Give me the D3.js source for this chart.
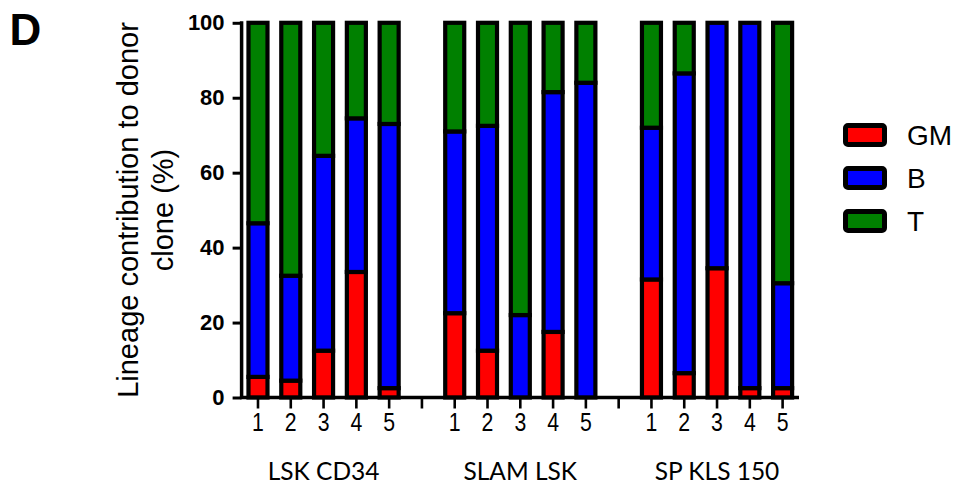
<!DOCTYPE html>
<html>
<head>
<meta charset="utf-8">
<script src="https://cdn.jsdelivr.net/npm/d3@7"></script>
<style>
  html, body { margin: 0; padding: 0; background: #fff; }
  svg { display: block; }
</style>
</head>
<body>
<svg id="chart" width="956" height="485"></svg>
<script>
// Clone groups and the clone numbers within each group
const groups = ["LSK CD34", "SLAM LSK", "SP KLS 150"];
const clones = ["1", "2", "3", "4", "5"];
// Lineage series (percent of donor clone), 5 clones per group in order
const lineages = ["GM", "B", "T"];
const gmValues = [5.5, 4.5, 12.5, 33.5, 2.5,   22.5, 12.5, 0, 17.5, 0,   31.5, 6.5, 34.5, 2.5, 2.5];
const bValues  = [41, 28, 52, 41, 70.5,         48.5, 60, 22, 64, 84,     40.5, 80, 65.5, 97.5, 28];
const tValues  = [53.5, 67.5, 35.5, 25.5, 27,   29, 27.5, 78, 18.5, 16,   28, 13.5, 0, 0, 69.5];
const yTicks = [0, 20, 40, 60, 80, 100];
const colors = { GM: "#ff0000", B: "#0000ff", T: "#008000" };

const ARIAL = "'Liberation Sans', Arial, sans-serif";
const svg = d3.select("#chart");

// Slots along the x axis: 5 clones per group with an empty slot between groups
const slots = [];
const rows = [];
groups.forEach((g, gi) => {
  clones.forEach((c, ci) => {
    const key = g + "|" + c;
    slots.push(key);
    const i = gi * clones.length + ci;
    rows.push({ key, group: g, clone: c, GM: gmValues[i], B: bValues[i], T: tValues[i] });
  });
  if (gi < groups.length - 1) slots.push("gap" + gi);
});

const x = d3.scaleBand().domain(slots).range([241.6, 799]).paddingInner(0).paddingOuter(0);
const y = d3.scaleLinear().domain([0, 100]).range([397.5, 22.8]);
const barW = x.bandwidth() * 0.58;
const cx = key => x(key) + x.bandwidth() / 2;

const series = d3.stack().keys(lineages)(rows);

// Stacked bars
const layer = svg.append("g");
series.forEach(s => {
  layer.selectAll(null)
    .data(s.filter(d => d[1] - d[0] > 0))
    .join("rect")
    .attr("x", d => cx(d.data.key) - barW / 2)
    .attr("width", barW)
    .attr("y", d => y(d[1]))
    .attr("height", d => y(d[0]) - y(d[1]))
    .attr("fill", colors[s.key])
    .attr("stroke", "#000")
    .attr("stroke-width", 4.2);
});

// Y axis
const yAxis = svg.append("g")
  .attr("transform", "translate(241.6,0)")
  .call(d3.axisLeft(y).tickValues(yTicks).tickSize(9).tickPadding(8));
yAxis.select(".domain").attr("stroke", "#000").attr("stroke-width", 3.5)
  .attr("d", `M0,${y(100) - 1.5}V${y(0) + 1.5}`);
yAxis.selectAll(".tick line").attr("stroke-width", 3);
yAxis.selectAll(".tick text")
  .attr("font-family", ARIAL)
  .attr("font-weight", "bold")
  .attr("font-size", 22)
  .attr("fill", "#000");

// X axis with a tick for every slot
const xAxis = svg.append("g")
  .attr("transform", `translate(0,${y(0)})`)
  .call(d3.axisBottom(x).tickSize(11).tickFormat(""));
xAxis.select(".domain").attr("stroke-width", 3.5).attr("d", `M${241.6 - 1.7},0H799`);
xAxis.selectAll(".tick line").attr("stroke-width", 2.6);

// Clone number labels (slightly narrow, tall digits)
svg.append("g").selectAll("text")
  .data(rows)
  .join("text")
  .attr("transform", d => `translate(${cx(d.key)},431) scale(0.85,1)`)
  .attr("text-anchor", "middle")
  .attr("font-family", ARIAL)
  .attr("font-size", 25)
  .text(d => d.clone);

// Group labels
svg.append("g").selectAll("text")
  .data(groups)
  .join("text")
  .attr("x", g => (cx(g + "|" + clones[0]) + cx(g + "|" + clones[clones.length - 1])) / 2)
  .attr("y", 480)
  .attr("text-anchor", "middle")
  .attr("font-family", "Lato, Carlito, sans-serif")
  .attr("font-size", 24.5)
  .text(g => g);

// Y axis title (two lines)
const title = svg.append("text")
  .attr("transform", "translate(0,210) rotate(-90)")
  .attr("text-anchor", "middle")
  .attr("font-family", ARIAL)
  .attr("font-size", 29);
title.append("tspan").attr("x", 0).attr("y", 138).text("Lineage contribution to donor");
title.append("tspan").attr("x", 0).attr("y", 173).text("clone (%)");

// Panel letter
svg.append("text")
  .attr("x", 9.5).attr("y", 45)
  .attr("font-family", ARIAL)
  .attr("font-weight", "bold")
  .attr("font-size", 44)
  .text("D");

// Legend
const legend = svg.append("g");
lineages.forEach((k, i) => {
  const cy = 135 + i * 43;
  legend.append("rect")
    .attr("x", 845.5).attr("y", cy - 9.5)
    .attr("width", 39).attr("height", 19)
    .attr("rx", 2.5)
    .attr("fill", colors[k]).attr("stroke", "#000").attr("stroke-width", 5);
  legend.append("text")
    .attr("x", 907).attr("y", cy + 10)
    .attr("font-family", ARIAL)
    .attr("font-size", 28)
    .text(k);
});
</script>
</body>
</html>
